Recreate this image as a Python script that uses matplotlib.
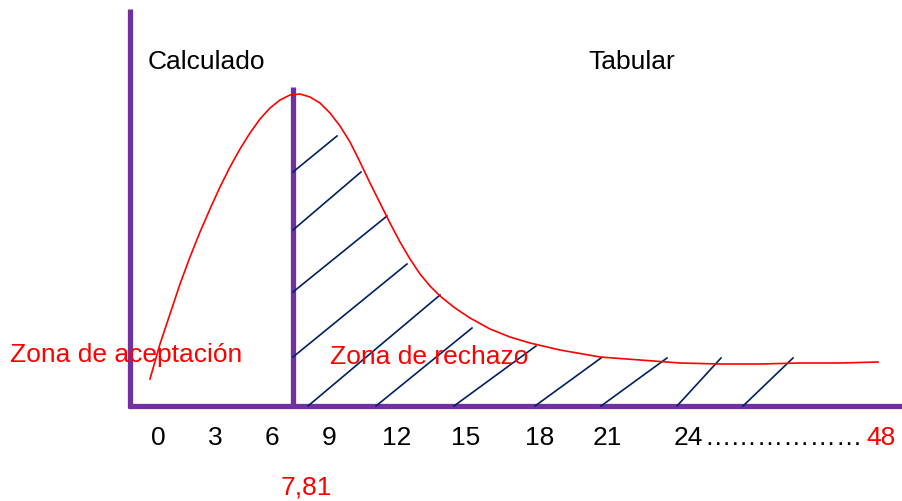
import matplotlib.pyplot as plt

# diagram drawn on a pixel-like canvas (x right, y down)
curve_x = [150, 160, 170, 180, 190, 200, 210, 220, 230, 240, 250, 260, 270, 280, 290, 300,
           310, 320, 330, 340, 350, 360, 370, 380, 390, 400, 410, 420, 430, 440, 455, 470,
           490, 510, 530, 560, 600, 640, 680, 720, 760, 800, 840, 878]
curve_y = [380, 345, 315, 285, 258, 233, 210, 188, 168, 150, 134, 120, 109, 101, 96, 95,
           98, 104, 114, 127, 143, 163, 184, 204, 224, 243, 260, 275, 287, 297, 309, 319,
           330, 338, 344, 351, 358, 361, 364, 365, 365, 364, 364, 363]

# hatch segments: (x0, y0, x1, y1)
hatch = [(293, 173, 337, 137), (293, 231, 361, 173), (293, 293, 387, 217),
         (293, 358, 407, 265), (308, 407, 440, 296), (376, 407, 472, 329),
         (454, 407, 536, 347), (535, 407, 601, 359), (601, 407, 667, 359),
         (677, 407, 721, 359), (743, 407, 793, 359)]

tick_labels = ['0', '3', '6', '9', '12', '15', '18', '21', '24']
tick_pos = [158, 215, 272, 329, 397, 466, 540, 607, 688]

purple = '#7030A0'
navy = '#002060'

plt.rcParams['font.family'] = ['Liberation Sans', 'DejaVu Sans']
fig = plt.figure(figsize=(9.03, 5.02), dpi=100)
ax = fig.add_axes([0, 0, 1, 1])
ax.set_xlim(0, 903)
ax.set_ylim(502, 0)
ax.axis('off')

# axes lines
ax.plot([130, 130], [10, 409], color=purple, lw=3.8, solid_capstyle='butt')
ax.plot([128, 903], [407, 407], color=purple, lw=3.8, solid_capstyle='butt')
ax.plot([293, 293], [88, 407], color=purple, lw=3.8, solid_capstyle='butt')

for x0, y0, x1, y1 in hatch:
    ax.plot([x0, x1], [y0, y1], color=navy, lw=1.2)

ax.plot(curve_x, curve_y, color='red', lw=1.2)

fs = 19
ax.text(148, 62, 'Calculado', fontsize=fs, va='center', ha='left')
ax.text(588, 62, 'Tabular', fontsize=fs, va='center', ha='left')
ax.text(10, 355, 'Zona de aceptación', fontsize=fs, color='red', va='center', ha='left')
ax.text(330, 357, 'Zona de rechazo', fontsize=fs, color='red', va='center', ha='left')

for lab, xp in zip(tick_labels, tick_pos):
    ax.text(xp, 438, lab, fontsize=fs, va='center', ha='center')
ax.text(704, 438, '………………', fontsize=fs, va='center', ha='left')
ax.text(866, 438, '48', fontsize=fs, color='red', va='center', ha='left')
ax.text(306, 488, '7,81', fontsize=fs, color='red', va='center', ha='center')

plt.savefig('out.png', dpi=100)
